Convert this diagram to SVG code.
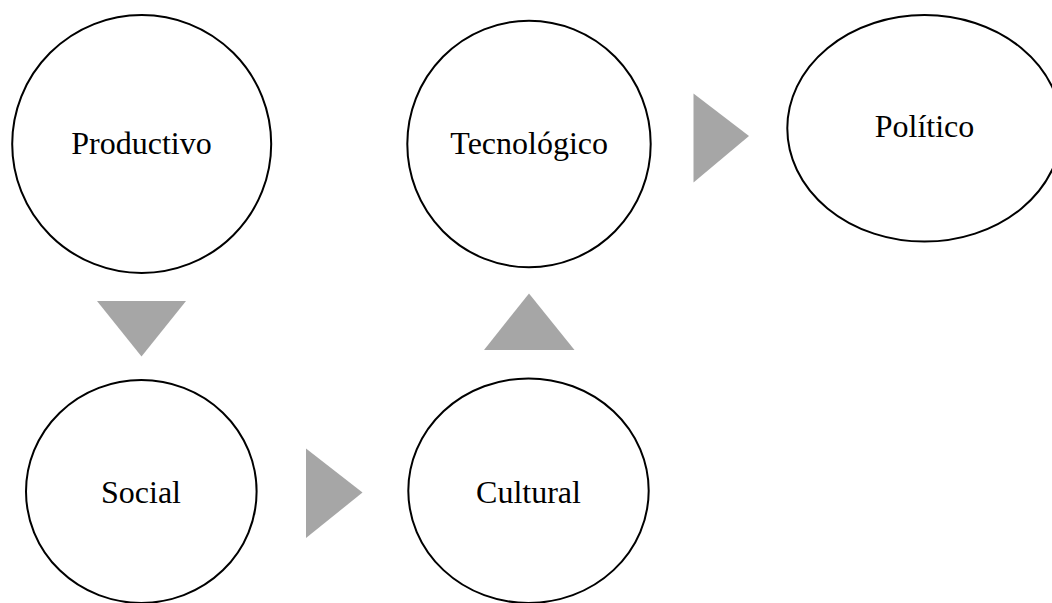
<svg xmlns="http://www.w3.org/2000/svg" width="1052" height="603" viewBox="0 0 1052 603">
<style>
.node{fill:#fff;stroke:#000;stroke-width:2}
.lbl{font-family:"Liberation Serif","Times New Roman",serif;font-size:32px;fill:#000;text-anchor:middle}
.arr{fill:#a6a6a6;stroke:none}
</style>
<rect width="1052" height="603" fill="#fff"/>
<g id="connectors">
<polygon class="arr" points="97,301 186,301 141.5,356.5"/>
<polygon class="arr" points="306,448.5 362.5,492.5 306,538"/>
<polygon class="arr" points="484,350 574.5,350 529,293.5"/>
<polygon class="arr" points="693.5,93.5 749,136 693.5,182.5"/>
</g>
<g id="node-productivo">
<ellipse class="node" cx="141.7" cy="144" rx="129.5" ry="129"/>
<text class="lbl" x="141.5" y="154">Productivo</text>
</g>
<g id="node-tecnologico">
<ellipse class="node" cx="529" cy="144" rx="121.7" ry="123.3"/>
<text class="lbl" x="529.2" y="154">Tecnológico</text>
</g>
<g id="node-politico">
<ellipse class="node" cx="924.5" cy="128.3" rx="137.2" ry="113.3"/>
<text class="lbl" x="924.5" y="137.3">Político</text>
</g>
<g id="node-social">
<ellipse class="node" cx="141.3" cy="491.5" rx="115.3" ry="111.5"/>
<text class="lbl" x="141" y="502.7">Social</text>
</g>
<g id="node-cultural">
<ellipse class="node" cx="528.5" cy="490.7" rx="120.2" ry="112.3"/>
<text class="lbl" x="528.5" y="502.7">Cultural</text>
</g>
</svg>
